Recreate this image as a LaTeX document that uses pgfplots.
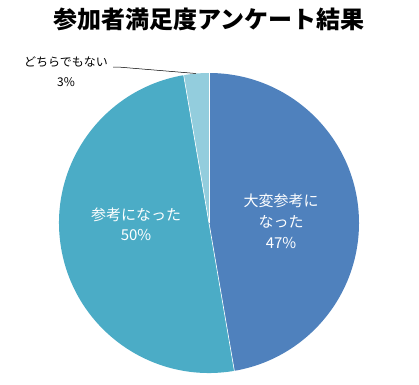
\documentclass[border=0pt]{standalone}
\usepackage{pgfplots}
\pgfplotsset{compat=1.18}
\usepackage{pgfplotstable}
\usepackage{fontspec}
\setmainfont{Noto Sans CJK JP}
\definecolor{c1}{HTML}{4F81BD}
\definecolor{c2}{HTML}{4BACC6}
\definecolor{c3}{HTML}{93CDDD}
\pgfplotstableread{
v
35
37
2
}\piedata
\begin{document}
\begin{tikzpicture}
\pgfplotstablegetelem{0}{v}\of\piedata \let\va\pgfplotsretval
\pgfplotstablegetelem{1}{v}\of\piedata \let\vb\pgfplotsretval
\pgfplotstablegetelem{2}{v}\of\piedata \let\vc\pgfplotsretval
\pgfmathsetmacro\tot{\va+\vb+\vc}
\pgfmathsetmacro\aA{90-360*\va/\tot}
\pgfmathsetmacro\aB{\aA-360*\vb/\tot}
\begin{axis}[
  width=419pt, height=380pt, scale only axis,
  xmin=0, xmax=419, ymin=0, ymax=380,
  hide axis, clip=false,
]
\path (axis cs:0,0) rectangle (axis cs:419,380);
\fill[c1] (axis cs:209,157) -- ++(90:150pt) arc[start angle=90,end angle=\aA,radius=150pt] -- cycle;
\fill[c2] (axis cs:209,157) -- ++(\aA:150pt) arc[start angle=\aA,end angle=\aB,radius=150pt] -- cycle;
\fill[c3] (axis cs:209,157) -- ++(\aB:150pt) arc[start angle=\aB,end angle=-270,radius=150pt] -- cycle;
\draw[white,line width=0.6pt] (axis cs:209,157) -- ++(90:150pt);
\draw[white,line width=0.6pt] (axis cs:209,157) -- ++(\aA:150pt);
\draw[white,line width=0.6pt] (axis cs:209,157) -- ++(\aB:150pt);
\node[font=\fontsize{24}{28}\selectfont\bfseries] at (axis cs:209,361) {参加者満足度アンケート結果};
\node[white,align=center,font=\fontsize{15}{21}\selectfont] at (axis cs:281,159) {大変参考に\\なった\\47\%};
\node[white,align=center,font=\fontsize{15}{20}\selectfont] at (axis cs:136,156) {参考になった\\50\%};
\node[black,align=center,font=\fontsize{12}{20}\selectfont] at (axis cs:66,308) {どちらでもない\\3\%};
\draw[black,line width=0.5pt] (axis cs:113,313) -- (axis cs:118,313) -- (axis cs:196,306.5);
\end{axis}
\end{tikzpicture}
\end{document}
